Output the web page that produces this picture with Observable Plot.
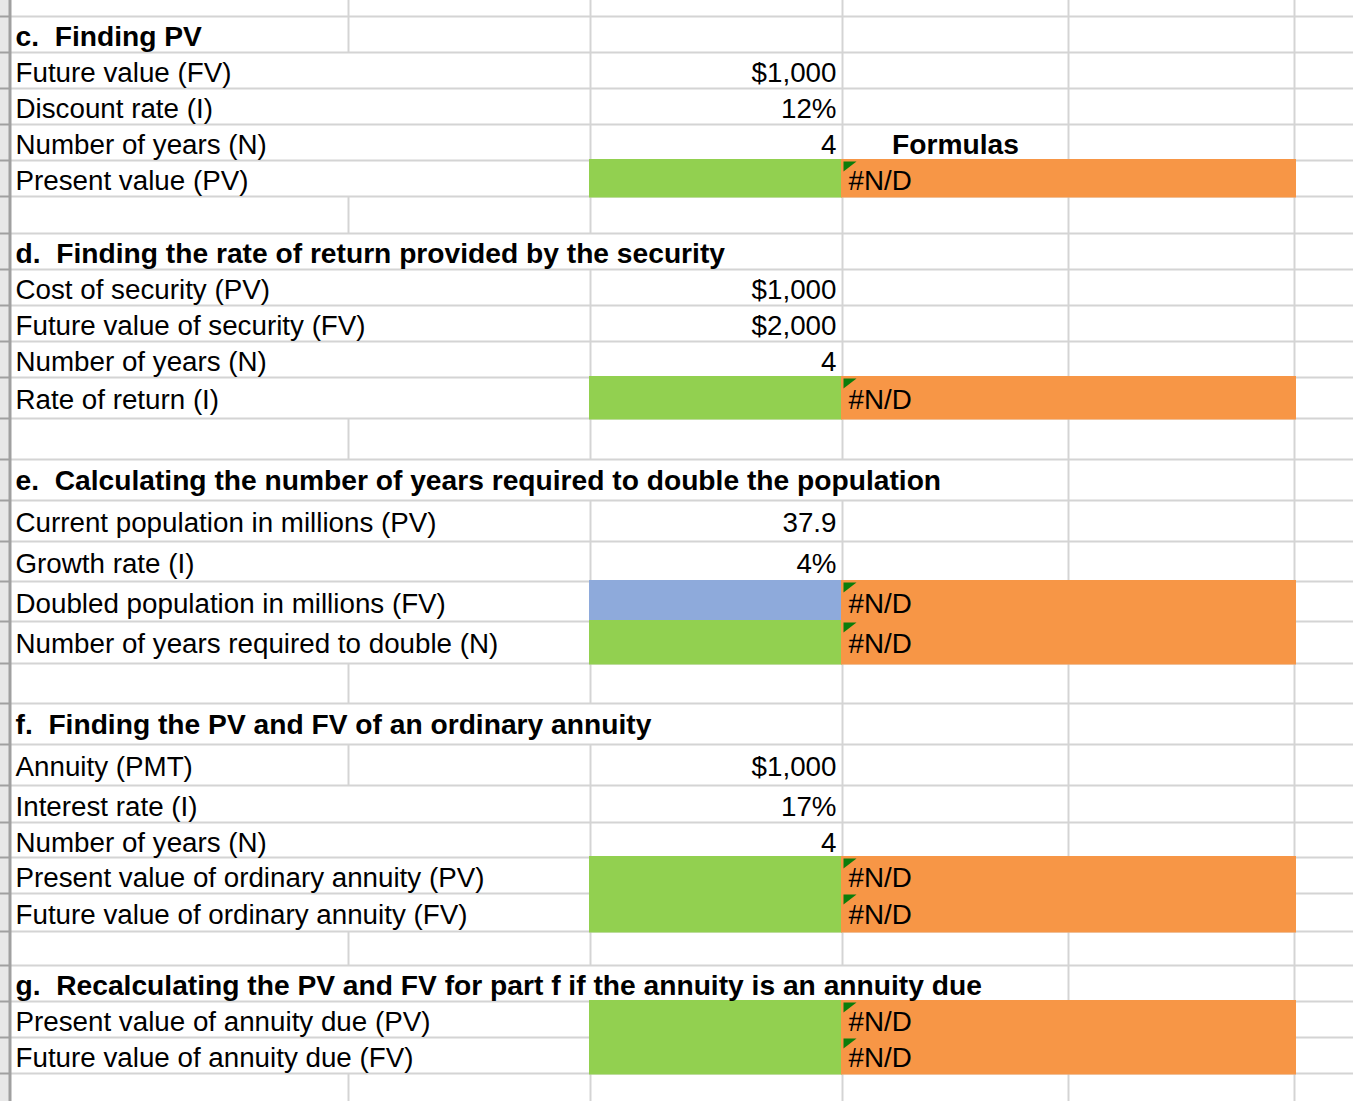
<!DOCTYPE html>
<html><head><meta charset="utf-8">
<script src="https://cdn.jsdelivr.net/npm/d3@7"></script>
<script src="https://cdn.jsdelivr.net/npm/@observablehq/plot@0.6"></script>
<style>html,body{margin:0;padding:0;background:#fff;overflow:hidden}</style>
</head><body><div id="chart"></div>
<script>
// ---------------- DATA (cell contents, one entry per spreadsheet row) ----------------
const labels = ["", "c.  Finding PV", "Future value (FV)", "Discount rate (I)", "Number of years (N)", "Present value (PV)", "",
  "d.  Finding the rate of return provided by the security", "Cost of security (PV)", "Future value of security (FV)", "Number of years (N)", "Rate of return (I)", "",
  "e.  Calculating the number of years required to double the population", "Current population in millions (PV)", "Growth rate (I)", "Doubled population in millions (FV)", "Number of years required to double (N)", "",
  "f.  Finding the PV and FV of an ordinary annuity", "Annuity (PMT)", "Interest rate (I)", "Number of years (N)", "Present value of ordinary annuity (PV)", "Future value of ordinary annuity (FV)", "",
  "g.  Recalculating the PV and FV for part f if the annuity is an annuity due", "Present value of annuity due (PV)", "Future value of annuity due (FV)", ""];
const inputValues = ["", "", "$1,000", "12%", "4", "", "", "", "$1,000", "$2,000", "4", "", "", "", "37.9", "4%", "", "", "", "", "$1,000", "17%", "4", "", "", "", "", "", "", ""];
const rowKinds = ["blank", "head", "label", "label", "label", "calc", "blank",
  "head", "label", "label", "label", "calc", "blank",
  "head", "label", "label", "calcFV", "calc", "blank",
  "head", "label", "label", "label", "calc", "calc", "blank",
  "head", "calc", "calc", "blank"];
const formulaResult = "#N/D";
const notes = [{row: 4, text: "Formulas"}];

// ---------------- LAYOUT (sheet geometry) ----------------
const rowHeights = [16,36,36,36,36,36,37,36,36,36,36,41,41,41,41,40,40,42,40,41,41,37,35,36,38,34,36,36,36,28];
const colEdges = [0, 10, 348, 590, 842, 1068, 1294, 1353]; // header strip, A, B, C, D, E, F
const abSplitRows = new Set([0, 1, 6, 12, 18, 20, 25, 29]); // rows where A and B are not merged
const FONT = "Liberation Sans, Arial, Helvetica, sans-serif";
const FS = 27.75, FSB = 28.2;
const C = {grid: "#d4d4d4", head: "#e8e8e8", headLine: "#a0a0a0", green: "#92d050", orange: "#f79646", blue: "#8eaadb", flag: "#0b7d0b"};

const W = colEdges[colEdges.length - 1];
const tops = [], bots = [];
let acc = 0;
rowHeights.forEach(h => { tops.push(acc); acc += h; bots.push(acc); });
const H = acc;
const [hdr, A, B, Cc, D, E, F] = colEdges;
const rows = labels.map((label, i) => ({i, label, value: inputValues[i], kind: rowKinds[i], top: tops[i], bot: bots[i],
  ty: tops[i] + 21 + Math.max(0, rowHeights[i] - 36) * 0.3}));

// text width measurement for overflow
const ctx = document.createElement("canvas").getContext("2d");
function textEnd(r) {
  if (!r.label) return 0;
  ctx.font = r.kind === "head" ? `bold ${FSB}px ${FONT}` : `${FS}px ${FONT}`;
  return A + 5 + ctx.measureText(r.label).width;
}

// horizontal grid
const hLines = bots.slice(0, -1).map(y => ({y}));
// vertical grid segments
const vSegs = [];
for (const r of rows) {
  const calc = r.kind.startsWith("calc");
  const end = textEnd(r);
  for (const x of [B, Cc, D, E, F]) {
    if (calc && x >= Cc) continue;
    if (x === B && !abSplitRows.has(r.i)) continue;
    if (end > x) continue;
    vSegs.push({x, y1: r.top, y2: r.bot});
  }
}
// fills
const fills = [];
for (const r of rows) {
  if (!r.kind.startsWith("calc")) continue;
  fills.push({x1: Cc - 1, x2: D, y1: r.top - 1, y2: r.bot + 1.5, fill: r.kind === "calcFV" ? C.blue : C.green});
  fills.push({x1: D - 1, x2: F + 2, y1: r.top - 1, y2: r.bot + 1.5, fill: C.orange});
}
const calcRows = rows.filter(r => r.kind.startsWith("calc"));

const corner = {draw(c) { c.moveTo(0, 0); c.lineTo(13, 0); c.lineTo(0, 10); c.closePath(); }};

const chart = Plot.plot({
  width: W, height: H, margin: 0,
  x: {domain: [0, W], range: [0, W], axis: null},
  y: {domain: [0, H], range: [0, H], axis: null},
  style: {fontFamily: FONT, fontSize: FS + "px", background: "#fff", color: "#000", whiteSpace: "pre"},
  marks: [
    // row header strip
    Plot.rect([0], {x1: 0, x2: A - 1, y1: 0, y2: H, fill: C.head}),
    Plot.ruleY(hLines, {y: "y", x1: 0, x2: A - 1, stroke: C.headLine, strokeWidth: 2}),
    // gridlines
    Plot.ruleY(hLines, {y: "y", x1: A, x2: W, stroke: C.grid, strokeWidth: 2}),
    Plot.ruleX(vSegs, {x: "x", y1: "y1", y2: "y2", stroke: C.grid, strokeWidth: 2}),
    Plot.ruleX([A - 0.5], {x: d => d, y1: 0, y2: H, stroke: C.headLine, strokeWidth: 3}),
    // cell fills
    Plot.rect(fills, {x1: "x1", x2: "x2", y1: "y1", y2: "y2", fill: "fill"}),
    // error markers
    Plot.dot(calcRows, {x: () => D + 1, y: d => d.top + 1, symbol: corner, fill: C.flag, stroke: "none"}),
    // labels
    Plot.text(rows.filter(r => r.label && r.kind !== "head"), {x: () => A + 5, y: "ty", text: "label", textAnchor: "start", fontSize: FS, fill: "#000"}),
    Plot.text(rows.filter(r => r.kind === "head"), {x: () => A + 5, y: d => d.ty - 1, text: "label", textAnchor: "start", fontSize: FSB, fontWeight: "bold", fill: "#000"}),
    // input values
    Plot.text(rows.filter(r => r.value), {x: () => D - 6, y: "ty", text: "value", textAnchor: "end", fontSize: FS, fill: "#000"}),
    // formula results
    Plot.text(calcRows, {x: () => D + 6, y: "ty", text: () => formulaResult, textAnchor: "start", fontSize: FS, fill: "#000"}),
    // notes
    Plot.text(notes, {x: () => (D + E) / 2, y: d => rows[d.row].ty - 1, text: "text", textAnchor: "middle", fontSize: FSB, fontWeight: "bold", fill: "#000"})
  ]
});
document.getElementById("chart").appendChild(chart);
</script>
</body></html>
